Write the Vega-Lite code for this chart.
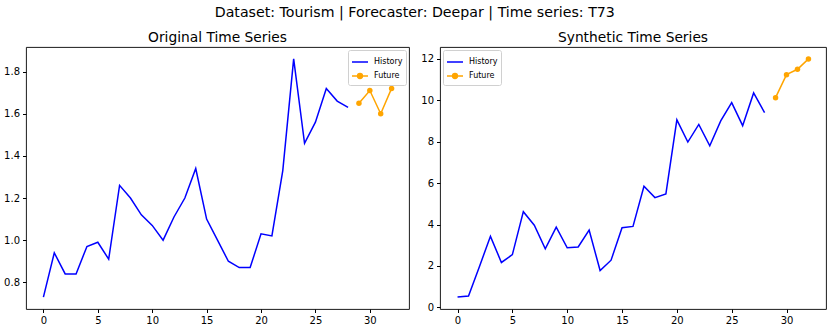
{
  "$schema": "https://vega.github.io/schema/vega-lite/v6.json",
  "padding": {"left": 3, "top": 5, "right": 5, "bottom": 2},
  "autosize": {"type": "pad"},
  "title": {"text": "Dataset: Tourism | Forecaster: Deepar | Time series: T73", "fontSize": 14.2, "font": "DejaVu Sans", "fontWeight": "normal", "anchor": "middle", "offset": 11, "color": "#000"},
  "config": {
    "font": "DejaVu Sans",
    "view": {"stroke": "#000", "strokeWidth": 0.9},
    "axis": {"grid": false, "domain": false, "tickColor": "#000", "tickSize": 3.5, "labelFontSize": 10, "labelColor": "#000", "labelPadding": 3, "title": null, "labelFont": "DejaVu Sans"},
    "title": {"font": "DejaVu Sans", "fontSize": 13.8, "fontWeight": "normal", "color": "#000", "offset": 2},
    "legend": {"labelFont": "DejaVu Sans", "labelFontSize": 8, "labelColor": "#000", "fillColor": "white", "strokeColor": "#d0d0d0", "padding": 3, "cornerRadius": 2, "rowPadding": 1, "symbolSize": 256, "symbolStrokeWidth": 1.5, "labelOffset": 5, "title": null, "offset": 3}
  },
  "datasets": {
    "series": [
      {"panel": "orig", "series": "History", "t": 0, "v": 0.73},
      {"panel": "orig", "series": "History", "t": 1, "v": 0.94},
      {"panel": "orig", "series": "History", "t": 2, "v": 0.84},
      {"panel": "orig", "series": "History", "t": 3, "v": 0.84},
      {"panel": "orig", "series": "History", "t": 4, "v": 0.97},
      {"panel": "orig", "series": "History", "t": 5, "v": 0.99},
      {"panel": "orig", "series": "History", "t": 6, "v": 0.91},
      {"panel": "orig", "series": "History", "t": 7, "v": 1.26},
      {"panel": "orig", "series": "History", "t": 8, "v": 1.20},
      {"panel": "orig", "series": "History", "t": 9, "v": 1.12},
      {"panel": "orig", "series": "History", "t": 10, "v": 1.07},
      {"panel": "orig", "series": "History", "t": 11, "v": 1.00},
      {"panel": "orig", "series": "History", "t": 12, "v": 1.11},
      {"panel": "orig", "series": "History", "t": 13, "v": 1.20},
      {"panel": "orig", "series": "History", "t": 14, "v": 1.34},
      {"panel": "orig", "series": "History", "t": 15, "v": 1.10},
      {"panel": "orig", "series": "History", "t": 16, "v": 1.00},
      {"panel": "orig", "series": "History", "t": 17, "v": 0.90},
      {"panel": "orig", "series": "History", "t": 18, "v": 0.87},
      {"panel": "orig", "series": "History", "t": 19, "v": 0.87},
      {"panel": "orig", "series": "History", "t": 20, "v": 1.03},
      {"panel": "orig", "series": "History", "t": 21, "v": 1.02},
      {"panel": "orig", "series": "History", "t": 22, "v": 1.33},
      {"panel": "orig", "series": "History", "t": 23, "v": 1.86},
      {"panel": "orig", "series": "History", "t": 24, "v": 1.46},
      {"panel": "orig", "series": "History", "t": 25, "v": 1.56},
      {"panel": "orig", "series": "History", "t": 26, "v": 1.72},
      {"panel": "orig", "series": "History", "t": 27, "v": 1.66},
      {"panel": "orig", "series": "History", "t": 28, "v": 1.63},
      {"panel": "orig", "series": "Future", "t": 29, "v": 1.65},
      {"panel": "orig", "series": "Future", "t": 30, "v": 1.71},
      {"panel": "orig", "series": "Future", "t": 31, "v": 1.60},
      {"panel": "orig", "series": "Future", "t": 32, "v": 1.72},
      {"panel": "syn", "series": "History", "t": 0, "v": 0.50},
      {"panel": "syn", "series": "History", "t": 1, "v": 0.55},
      {"panel": "syn", "series": "History", "t": 2, "v": 1.98},
      {"panel": "syn", "series": "History", "t": 3, "v": 3.43},
      {"panel": "syn", "series": "History", "t": 4, "v": 2.17},
      {"panel": "syn", "series": "History", "t": 5, "v": 2.55},
      {"panel": "syn", "series": "History", "t": 6, "v": 4.62},
      {"panel": "syn", "series": "History", "t": 7, "v": 3.97},
      {"panel": "syn", "series": "History", "t": 8, "v": 2.83},
      {"panel": "syn", "series": "History", "t": 9, "v": 3.87},
      {"panel": "syn", "series": "History", "t": 10, "v": 2.88},
      {"panel": "syn", "series": "History", "t": 11, "v": 2.92},
      {"panel": "syn", "series": "History", "t": 12, "v": 3.73},
      {"panel": "syn", "series": "History", "t": 13, "v": 1.78},
      {"panel": "syn", "series": "History", "t": 14, "v": 2.28},
      {"panel": "syn", "series": "History", "t": 15, "v": 3.85},
      {"panel": "syn", "series": "History", "t": 16, "v": 3.91},
      {"panel": "syn", "series": "History", "t": 17, "v": 5.85},
      {"panel": "syn", "series": "History", "t": 18, "v": 5.30},
      {"panel": "syn", "series": "History", "t": 19, "v": 5.48},
      {"panel": "syn", "series": "History", "t": 20, "v": 9.05},
      {"panel": "syn", "series": "History", "t": 21, "v": 7.98},
      {"panel": "syn", "series": "History", "t": 22, "v": 8.83},
      {"panel": "syn", "series": "History", "t": 23, "v": 7.80},
      {"panel": "syn", "series": "History", "t": 24, "v": 9.00},
      {"panel": "syn", "series": "History", "t": 25, "v": 9.88},
      {"panel": "syn", "series": "History", "t": 26, "v": 8.77},
      {"panel": "syn", "series": "History", "t": 27, "v": 10.35},
      {"panel": "syn", "series": "History", "t": 28, "v": 9.40},
      {"panel": "syn", "series": "Future", "t": 29, "v": 10.12},
      {"panel": "syn", "series": "Future", "t": 30, "v": 11.23},
      {"panel": "syn", "series": "Future", "t": 31, "v": 11.49},
      {"panel": "syn", "series": "Future", "t": 32, "v": 11.99}
    ]
  },
  "data": {"name": "series"},
  "resolve": {"scale": {"color": "independent", "y": "independent"}, "legend": {"color": "independent"}},
  "spacing": 10,
  "hconcat": [
    {
      "title": "Original Time Series",
      "width": 383,
      "height": 262,
      "transform": [{"filter": "datum.panel === 'orig'"}],
      "encoding": {
        "x": {"field": "t", "type": "quantitative", "scale": {"domain": [-1.6, 33.6], "nice": false, "zero": false}, "axis": {"values": [0, 5, 10, 15, 20, 25, 30]}},
        "y": {"field": "v", "type": "quantitative", "scale": {"domain": [0.6735, 1.9165], "nice": false, "zero": false}, "axis": {"values": [0.8, 1.0, 1.2, 1.4, 1.6, 1.8], "format": ".1f"}},
        "color": {"field": "series", "type": "nominal", "scale": {"domain": ["History", "Future"], "range": ["#0000ff", "#ffa500"]},
          "legend": {"orient": "top-right", "symbolType": "stroke",
            "encode": {"symbols": {"update": {
              "shape": {"signal": "datum.value === 'Future' ? 'M-1,0H1M0.3,0A0.3,0.3 0 1,1 -0.3,0A0.3,0.3 0 1,1 0.3,0' : 'stroke'"},
              "fill": {"signal": "datum.value === 'Future' ? '#ffa500' : 'transparent'"}}}}}}
      },
      "layer": [
        {"mark": {"type": "line", "strokeWidth": 1.5}},
        {"transform": [{"filter": "datum.series === 'Future'"}], "mark": {"type": "point", "filled": true, "size": 30, "opacity": 1}}
      ]
    },
    {
      "title": "Synthetic Time Series",
      "width": 386,
      "height": 262,
      "transform": [{"filter": "datum.panel === 'syn'"}],
      "encoding": {
        "x": {"field": "t", "type": "quantitative", "scale": {"domain": [-1.6, 33.6], "nice": false, "zero": false}, "axis": {"values": [0, 5, 10, 15, 20, 25, 30]}},
        "y": {"field": "v", "type": "quantitative", "scale": {"domain": [-0.0745, 12.5645], "nice": false, "zero": false}, "axis": {"values": [0, 2, 4, 6, 8, 10, 12]}},
        "color": {"field": "series", "type": "nominal", "scale": {"domain": ["History", "Future"], "range": ["#0000ff", "#ffa500"]},
          "legend": {"orient": "top-left", "symbolType": "stroke",
            "encode": {"symbols": {"update": {
              "shape": {"signal": "datum.value === 'Future' ? 'M-1,0H1M0.3,0A0.3,0.3 0 1,1 -0.3,0A0.3,0.3 0 1,1 0.3,0' : 'stroke'"},
              "fill": {"signal": "datum.value === 'Future' ? '#ffa500' : 'transparent'"}}}}}}
      },
      "layer": [
        {"mark": {"type": "line", "strokeWidth": 1.5}},
        {"transform": [{"filter": "datum.series === 'Future'"}], "mark": {"type": "point", "filled": true, "size": 30, "opacity": 1}}
      ]
    }
  ]
}
